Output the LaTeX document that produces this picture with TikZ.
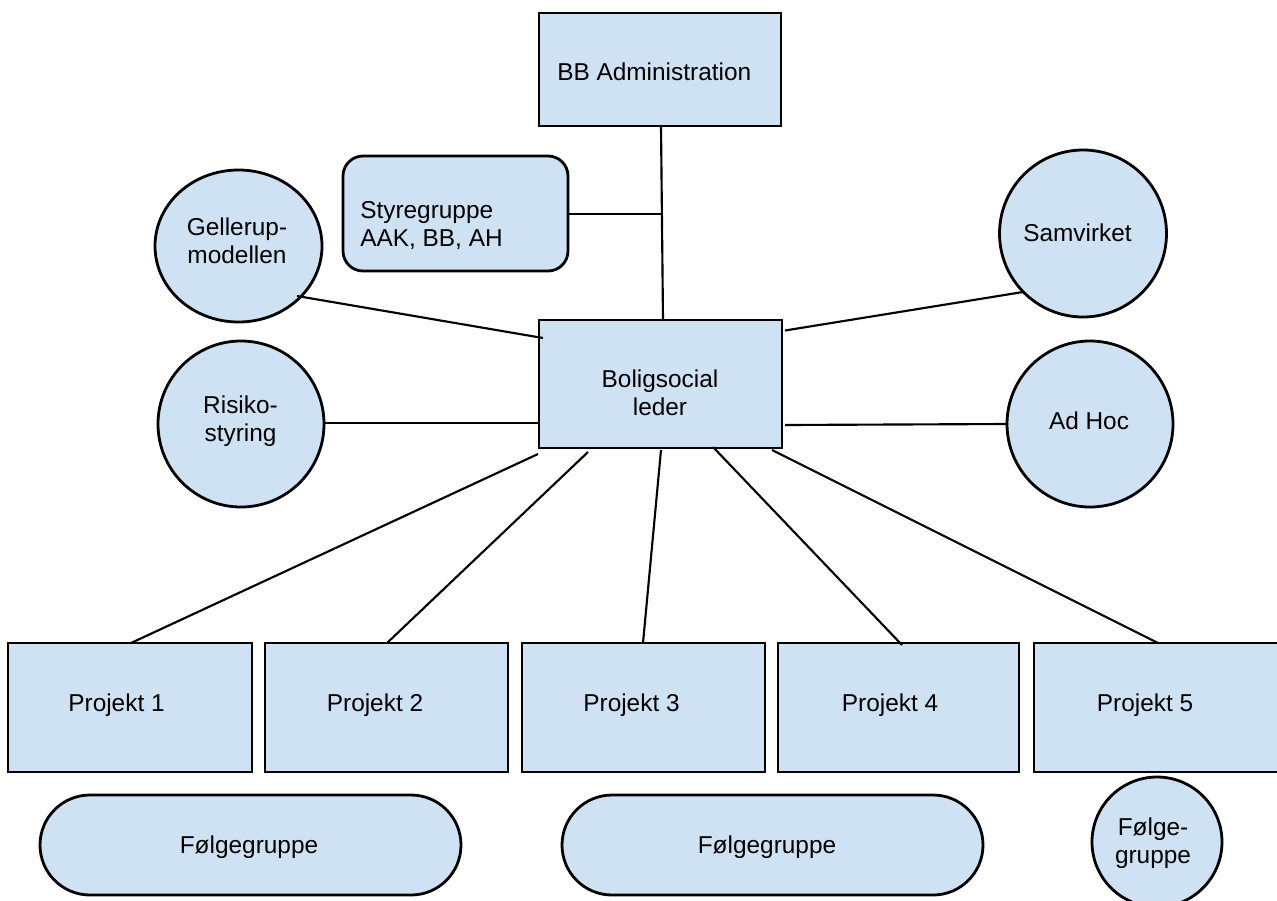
\documentclass[tikz,border=0pt]{standalone}
\usepackage{fontspec}
\setmainfont{Liberation Sans}
\usetikzlibrary{shapes.geometric}
\definecolor{pale}{HTML}{CFE2F3}
\begin{document}
\begin{tikzpicture}[x=0.75pt,y=-0.75pt,
  shp/.style={draw=black, line width=2.1pt, fill=pale, inner sep=0pt},
  box/.style={shp, rectangle},
  rbox/.style={shp, rectangle, rounded corners=15pt},
  stad/.style={shp, rectangle, rounded corners=37.5pt, minimum width=315.75pt, minimum height=75pt},
  circ/.style={shp, circle},
  ell/.style={shp, ellipse},
  proj/.style={box, minimum width=182.25pt, minimum height=96.75pt},
  lbl/.style={inner sep=0pt, font=\fontsize{18.3}{21.5}\selectfont},
  conn/.style={line width=1.6pt}]
\useasboundingbox (0,0) rectangle (1277,900);

% shapes
\node[box, minimum width=181.5pt, minimum height=84.75pt] (bb) at (660,69.5) {};
\node[rbox, minimum width=168.75pt, minimum height=86.25pt] (sty) at (455.5,213.5) {};
\node[ell, minimum width=125.25pt, minimum height=114pt] (gel) at (238.5,246) {};
\node[circ, minimum size=124.5pt] (ris) at (241,424) {};
\node[circ, minimum size=125.25pt] (sam) at (1083,233.5) {};
\node[circ, minimum size=124.5pt] (adh) at (1090,424) {};
\node[box, minimum width=182.25pt, minimum height=96pt] (bl) at (660.5,384) {};
\node[proj, minimum width=183pt] (p1) at (130,707.5) {};
\node[proj] (p2) at (386.5,707.5) {};
\node[proj] (p3) at (643.5,707.5) {};
\node[proj, minimum width=180.75pt] (p4) at (898.5,707.5) {};
\node[proj, minimum width=249pt] (p5) at (1200,707.5) {};
\node[stad] (f1) at (250.5,845) {};
\node[stad] (f2) at (772.5,845) {};
\node[circ, minimum size=97.5pt] (f3) at (1157,842) {};

% texts
\node[lbl, anchor=base west] (bbt) at (557,80) {BB Administration};
\node[lbl, anchor=base west] (styt) at (360,218) {\begin{tabular}[t]{@{}l@{}}Styregruppe\\AAK, BB, AH\end{tabular}};
\node[lbl, anchor=base] (gelt) at (237,235) {\begin{tabular}[t]{@{}c@{}}Gellerup-\\modellen\end{tabular}};
\node[lbl, anchor=base] (rist) at (240.5,413) {\begin{tabular}[t]{@{}c@{}}Risiko-\\styring\end{tabular}};
\node[lbl, anchor=base] (samt) at (1077.5,241) {Samvirket};
\node[lbl, anchor=base] (adht) at (1089,429) {Ad Hoc};
\node[lbl, anchor=base] (blt) at (660,387) {\begin{tabular}[t]{@{}c@{}}Boligsocial\\leder\end{tabular}};
\node[lbl, anchor=base] (p1t) at (116.5,711) {Projekt 1};
\node[lbl, anchor=base] (p2t) at (375,711) {Projekt 2};
\node[lbl, anchor=base] (p3t) at (631.5,711) {Projekt 3};
\node[lbl, anchor=base] (p4t) at (890,711) {Projekt 4};
\node[lbl, anchor=base] (p5t) at (1145,711) {Projekt 5};
\node[lbl, anchor=base] (f1t) at (249,853) {Følgegruppe};
\node[lbl, anchor=base] (f2t) at (767,853) {Følgegruppe};
\node[lbl, anchor=base] (f3t) at (1153,835) {\begin{tabular}[t]{@{}c@{}}Følge-\\gruppe\end{tabular}};

% connector end points
\coordinate (gel-e) at (297,296);
\coordinate (bl-gel) at (543,338);
\coordinate (sam-w) at (1023,292);
\coordinate (bl-sam) at (785,330.5);
\coordinate (ris-e) at (324,423);
\coordinate (bl-ris) at (538,423);
\coordinate (adh-w) at (1007,424);
\coordinate (bl-adh) at (785,425);
\coordinate (bl-1) at (538,454);
\coordinate (bl-2) at (588,452);
\coordinate (bl-3) at (661,450);
\coordinate (bl-4) at (713,447);
\coordinate (bl-5) at (772,450);
\coordinate (p1-n) at (131,643);
\coordinate (p2-n) at (387,643);
\coordinate (p3-n) at (643,643);
\coordinate (p4-n) at (902,645);
\coordinate (p5-n) at (1158,643);
\coordinate (bb-s) at (661,126);
\coordinate (bl-n) at (663,320);
\coordinate (trunk) at (661.5,214);

% connectors
\draw[conn] (bb-s) -- (bl-n);
\draw[conn] (sty.east |- trunk) -- (trunk);
\draw[conn] (gel-e) -- (bl-gel);
\draw[conn] (sam-w) -- (bl-sam);
\draw[conn] (ris-e) -- (bl-ris);
\draw[conn] (adh-w) -- (bl-adh);
\draw[conn] (bl-1) -- (p1-n);
\draw[conn] (bl-2) -- (p2-n);
\draw[conn] (bl-3) -- (p3-n);
\draw[conn] (bl-4) -- (p4-n);
\draw[conn] (bl-5) -- (p5-n);
\end{tikzpicture}
\end{document}
